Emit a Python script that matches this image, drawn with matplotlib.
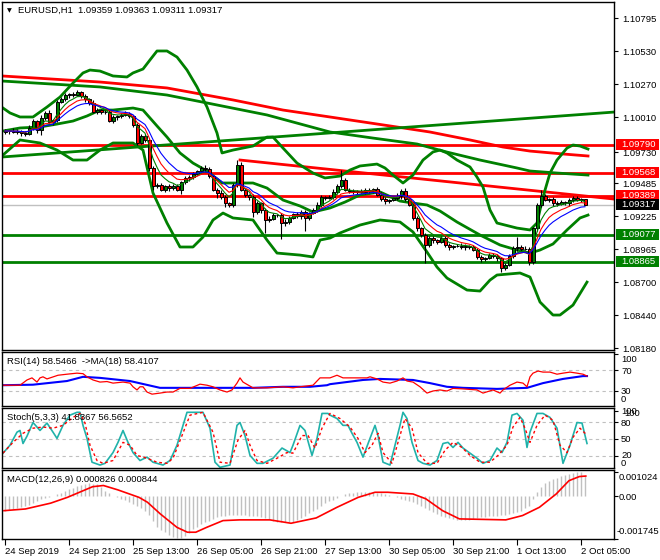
import numpy as np
import pandas as pd
import matplotlib
matplotlib.use('Agg')
import matplotlib.pyplot as plt
from matplotlib.transforms import blended_transform_factory as blend
from matplotlib.patches import Rectangle

plt.rcParams['font.family'] = ['Liberation Sans', 'DejaVu Sans']
FS = 6.8
W, H = 660, 560

# ---------------- data ----------------
first_open = 1.09892
close = [1.09900, 1.09900, 1.09892, 1.09900, 1.09884, 1.09876, 1.09924, 1.09979, 1.09908, 1.10003,
         1.10043, 1.09971, 1.09987, 1.10130, 1.10153, 1.10185, 1.10193, 1.10185, 1.10209, 1.10177,
         1.10153, 1.10122, 1.10051, 1.10066, 1.10051, 1.10051, 1.09979, 1.10011, 1.10019, 1.10027,
         1.10035, 1.10019, 1.09948, 1.09805, 1.09860, 1.09829, 1.09607, 1.09464, 1.09472, 1.09432,
         1.09464, 1.09448, 1.09464, 1.09432, 1.09496, 1.09527, 1.09535, 1.09559, 1.09583, 1.09607,
         1.09599, 1.09543, 1.09432, 1.09409, 1.09377, 1.09329, 1.09314, 1.09472, 1.09631, 1.09432,
         1.09393, 1.09377, 1.09258, 1.09329, 1.09274, 1.09195, 1.09203, 1.09234, 1.09234, 1.09171,
         1.09179, 1.09211, 1.09242, 1.09226, 1.09258, 1.09211, 1.09250, 1.09274, 1.09314, 1.09377,
         1.09369, 1.09377, 1.09417, 1.09464, 1.09512, 1.09432, 1.09425, 1.09417, 1.09425, 1.09417,
         1.09432, 1.09425, 1.09440, 1.09393, 1.09361, 1.09345, 1.09353, 1.09369, 1.09385, 1.09425,
         1.09361, 1.09314, 1.09211, 1.09131, 1.09076, 1.08997, 1.09052, 1.09036, 1.09020, 1.09052,
         1.08997, 1.08981, 1.08989, 1.08989, 1.08981, 1.08989, 1.08981, 1.08957, 1.08902, 1.08886,
         1.08894, 1.08917, 1.08909, 1.08894, 1.08815, 1.08838, 1.08909, 1.08973, 1.08981, 1.08965,
         1.08965, 1.08862, 1.09131, 1.09314, 1.09385, 1.09353, 1.09361, 1.09329, 1.09321, 1.09337,
         1.09329, 1.09353, 1.09369, 1.09353, 1.09359, 1.09317]
# wick lengths above / below the body, in 1e-5
wick_up = [15, 10, 20, 15, 10, 15, 20, 15, 10, 20,
           15, 20, 10, 15, 20, 15, 10, 15, 16, 10,
           15, 10, 20, 15, 10, 15, 20, 15, 10, 15,
           20, 15, 10, 15, 20, 15, 10, 15, 20, 15,
           10, 15, 20, 15, 10, 15, 20, 15, 10, 15,
           20, 15, 10, 15, 20, 15, 10, 20, 39, 25,
           15, 10, 20, 15, 10, 15, 20, 15, 10, 15,
           20, 15, 10, 15, 20, 15, 10, 15, 20, 15,
           10, 15, 20, 15, 79, 15, 20, 15, 10, 15,
           20, 15, 10, 15, 20, 15, 10, 15, 20, 15,
           23, 15, 20, 15, 10, 15, 20, 15, 10, 15,
           20, 15, 10, 15, 20, 15, 10, 15, 20, 15,
           10, 15, 20, 15, 10, 15, 20, 15, 80, 15,
           20, 15, 10, 15, 47, 15, 10, 15, 20, 15,
           10, 15, 20, 15, 10, 4]
wick_dn = [15, 20, 10, 15, 20, 15, 10, 15, 20, 40,
           15, 10, 20, 15, 10, 15, 20, 15, 10, 15,
           20, 15, 10, 15, 20, 15, 10, 15, 20, 15,
           10, 15, 20, 15, 10, 15, 20, 30, 15, 10,
           15, 20, 15, 10, 30, 15, 20, 15, 10, 15,
           20, 15, 10, 40, 15, 30, 15, 20, 15, 10,
           15, 20, 40, 15, 20, 100, 15, 10, 15, 130,
           20, 15, 10, 15, 20, 100, 15, 10, 15, 20,
           15, 10, 15, 20, 15, 10, 15, 20, 15, 10,
           15, 20, 15, 10, 15, 20, 15, 10, 15, 20,
           15, 10, 15, 20, 15, 143, 15, 20, 15, 10,
           15, 20, 15, 10, 15, 20, 15, 10, 15, 20,
           15, 10, 15, 20, 32, 15, 10, 15, 20, 15,
           10, 24, 15, 20, 15, 10, 15, 20, 15, 10,
           15, 20, 15, 10, 15, 6]

red_levels = [1.09790, 1.09568, 1.09389]
green_levels = [1.09077, 1.08865]
last_price = 1.09317

# long moving averages (thick)
ma_red_x = [-0.75, 23.75, 40.5, 57, 69.5, 81.25, 96.25, 106.25, 116.25, 124.5, 131.25, 139.5, 145.75]
ma_red_y = [1.10336, 1.10288, 1.10241, 1.10146, 1.10066, 1.10011, 1.09940, 1.09892, 1.09829,
            1.09773, 1.09741, 1.09718, 1.09702]
ma_grn_x = [-0.75, 23.75, 40.5, 50.5, 65.5, 81.25, 92, 103, 110.5, 118.75, 128, 131.25, 138, 145.75]
ma_grn_y = [1.10296, 1.10249, 1.10185, 1.10122, 1.10027, 1.09892, 1.09844, 1.09797, 1.09733,
            1.09670, 1.09607, 1.09583, 1.09567, 1.09551]

# trend lines
trend_grn_x = [-0.75, 152.25]
trend_grn_y = [1.09694, 1.10050]
trend_red_x = [58.75, 152.25]
trend_red_y = [1.09670, 1.09361]

# bollinger bands
bb_up_x = [-0.5, 1.25, 3.75, 7, 10.5, 13.75, 17, 19.5, 21.25, 23.75, 27, 30.5, 32, 34.5, 36.25,
           38, 40.5, 43, 45.5, 48, 50.5, 53, 54.25, 57, 62, 65.5, 67, 69.5, 73, 77, 80, 83.75,
           86.25, 88.75, 93, 95, 97, 99.5, 102, 104.5, 107, 108.75, 110.5, 113, 116.25, 118,
           119.5, 121.25, 123, 128, 131.25, 133, 134.5, 136.25, 138, 140.5, 142, 143.75, 145.75]
bb_up_y = [1.10082, 1.10043, 1.10011, 1.10011, 1.10090, 1.10169, 1.10280, 1.10360, 1.10383,
           1.10375, 1.10336, 1.10328, 1.10360, 1.10391, 1.10463, 1.10534, 1.10534, 1.10486,
           1.10383, 1.10249, 1.10090, 1.09884, 1.09726, 1.09749, 1.09781, 1.09852, 1.09852,
           1.09765, 1.09646, 1.09567, 1.09528, 1.09543, 1.09591, 1.09623, 1.09638, 1.09607,
           1.09551, 1.09488, 1.09551, 1.09670, 1.09734, 1.09749, 1.09726, 1.09670, 1.09615,
           1.09535, 1.09456, 1.09274, 1.09171, 1.09131, 1.09116, 1.09171, 1.09377, 1.09567,
           1.09670, 1.09765, 1.09789, 1.09781, 1.09757]
bb_mid_x = [-0.5, 3.75, 8.75, 13, 17, 20.5, 23.75, 27, 32, 34.5, 38, 40.5, 43.75, 47, 50.5, 54.25,
            62, 65.5, 69.5, 73.75, 77, 81.25, 85, 88.75, 93.75, 98.75, 102, 105.5, 108.75, 113,
            118.75, 123.75, 128, 131.25, 133.75, 137, 140.5, 143.75, 145.75]
bb_mid_y = [1.09900, 1.09924, 1.09932, 1.09955, 1.09979, 1.10019, 1.10066, 1.10066, 1.10082,
            1.10066, 1.09940, 1.09852, 1.09726, 1.09646, 1.09583, 1.09488, 1.09488, 1.09448,
            1.09353, 1.09306, 1.09258, 1.09290, 1.09337, 1.09393, 1.09417, 1.09345, 1.09329,
            1.09314, 1.09266, 1.09179, 1.09076, 1.08997, 1.08957, 1.08933, 1.08957, 1.09005,
            1.09116, 1.09211, 1.09234]
bb_lo_x = [-0.5, 3.75, 8.75, 13, 17, 20.5, 23.75, 27, 32, 34.5, 37, 40.5, 43.75, 47, 49.5, 52,
           54.5, 57, 62, 65.5, 68, 73.75, 77, 78.75, 81.25, 83.75, 88.75, 93.75, 98.75, 102,
           103.75, 105.5, 108, 110.5, 115.5, 118.75, 121.25, 123, 128.75, 131.25, 133.75, 137,
           138.75, 142, 145.5]
bb_lo_y = [1.09710, 1.09829, 1.09805, 1.09749, 1.09670, 1.09670, 1.09749, 1.09805, 1.09805,
           1.09749, 1.09409, 1.09171, 1.08981, 1.08981, 1.09060, 1.09195, 1.09250, 1.09211,
           1.09195, 1.09036, 1.08933, 1.08917, 1.08902, 1.09036, 1.09052, 1.09092, 1.09155,
           1.09195, 1.09179, 1.09100, 1.09020, 1.08941, 1.08822, 1.08735, 1.08640, 1.08632,
           1.08719, 1.08759, 1.08775, 1.08743, 1.08545, 1.08442, 1.08442, 1.08521, 1.08703]

# RSI(14) and its MA(18)
rsi_x = [-0.5, 3.75, 5.5, 6.75, 8, 8.75, 9.5, 10.5, 13.25, 15.5, 18, 19.5, 20.5, 22, 23.75, 25.5,
         27, 29.5, 31.25, 32, 33, 33.75, 34.5, 35.5, 36.75, 38.75, 40.5, 42, 43.75, 46.25, 48.75,
         50.5, 52, 53.75, 55.5, 56.75, 58, 58.75, 59.5, 62, 65.5, 69.5, 72, 73.75, 77, 78.75,
         81.25, 83, 84.5, 86.25, 90.5, 91.25, 93, 94.5, 96.25, 98, 99.5, 100.5, 102, 103.75,
         105.5, 107, 108.75, 110.5, 112, 114.5, 118, 119.5, 122, 123.75, 124.5, 126.25, 128,
         129.5, 130.5, 131.25, 132, 133.25, 134.5, 136.25, 138, 139.5, 141.25, 143, 144.5, 145.5]
rsi_y = [41, 41, 51, 55, 47, 55, 57, 53, 60, 62, 64, 63, 57, 51, 47, 48, 45, 47, 45, 38, 32, 38,
         38, 28, 24, 26, 28, 28, 35, 35, 43, 41, 38, 32, 28, 32, 45, 55, 47, 36, 36, 38, 36, 38,
         41, 55, 55, 60, 55, 55, 55, 57, 53, 47, 45, 49, 55, 49, 47, 38, 26, 30, 32, 30, 35, 34,
         32, 26, 32, 26, 32, 41, 47, 45, 38, 57, 64, 68, 66, 66, 62, 64, 66, 64, 62, 58.5]
rsi_ma_x = [-0.5, 7, 15.5, 19.5, 23.75, 31.25, 38.75, 44.5, 52, 62, 69.5, 76.25, 80.5, 81.25,
            89.5, 93.75, 102, 106.25, 110.5, 114.5, 123, 130.5, 134.5, 139.5, 144.5, 145.5]
rsi_ma_y = [41, 42, 49, 57, 55, 49, 36, 36, 36, 36, 38, 38, 41, 43, 51, 53, 51, 45, 38, 36, 34,
            36, 45, 53, 58.4, 58.4]

# Stochastic(5,3,3)
stk_x = [-0.5, 1.25, 3, 3.75, 4.5, 5.5, 7, 8.75, 10.5, 12, 13, 14.5, 16.25, 18, 18.75, 19.5,
         20.5, 21.75, 23.75, 25, 27, 28.25, 29.5, 30.75, 32, 33.75, 35.5, 37, 39.5, 41.25, 43,
         45.5, 48.75, 49.5, 51.25, 52.5, 53.75, 56.25, 58, 58.75, 60, 61.25, 63, 64.5, 67,
         69.25, 71.25, 72, 73.75, 75, 76.75, 78, 79.25, 80.75, 81.25, 83, 84.5, 85.75, 86.75,
         88, 89.5, 91.25, 92.5, 93.25, 94.5, 96.25, 97.5, 98.75, 99.5, 100.5, 101.75, 103.25,
         104.5, 106.25, 108, 109.5, 110.75, 112, 113.25, 114.5, 116.25, 118, 119.5, 121.25, 123,
         124.25, 125.5, 126.75, 128, 129.5, 130.5, 131.25, 133, 134.5, 136.25, 138, 139.5,
         141.25, 143, 144.25, 145.5]
stk_y = [25, 39, 62, 65, 42, 55, 79, 65, 78, 62, 51, 74, 92, 97, 97, 74, 51, 9, 4, 7, 26, 44, 65,
         44, 26, 12, 18, 9, 4, 12, 39, 97, 97, 97, 69, 9, 0, 4, 74, 79, 56, 21, 7, 7, 16, 34, 26,
         39, 74, 65, 21, 51, 95, 95, 92, 86, 74, 74, 60, 44, 18, 51, 74, 56, 9, 4, 39, 74, 97,
         86, 44, 12, 7, 4, 12, 42, 44, 35, 44, 34, 25, 16, 7, 12, 34, 26, 44, 92, 95, 83, 35,
         62, 95, 95, 88, 69, 7, 39, 79, 78, 42]
std_x = [-0.5, 2, 4.5, 7, 9.5, 12, 14.5, 17, 18.75, 20, 21.25, 23, 24.5, 27, 29.5, 31.25, 33,
         35.5, 38, 40.5, 42, 44.25, 46.25, 49.5, 52, 53.75, 56.25, 58.25, 60, 61.25, 63, 65.5,
         68, 70.5, 72, 74.25, 75.75, 77.5, 79.25, 81.25, 83.75, 86.25, 88.25, 90, 91.75, 93.25,
         94.5, 96.75, 98.25, 100, 101.75, 103.25, 105.5, 108, 110, 112, 114.25, 116.25, 118.75,
         121.25, 123.25, 125.5, 127, 128.75, 130, 131.25, 133, 135, 137, 138.75, 140.5, 142,
         143.75, 145.5]
std_y = [25, 44, 60, 69, 71, 69, 74, 88, 95, 78, 39, 12, 7, 12, 44, 39, 21, 16, 9, 7, 16, 56, 92,
         97, 62, 9, 7, 48, 65, 39, 12, 7, 16, 26, 25, 56, 56, 34, 69, 95, 86, 71, 51, 26, 39, 60,
         26, 7, 44, 86, 69, 26, 7, 7, 30, 44, 35, 21, 9, 9, 21, 39, 71, 88, 69, 44, 74, 92, 83,
         39, 26, 53, 69, 56.5]

# MACD(12,26,9): main per bar and signal, in 1e-5
macd_main = [-59, -56, -52, -48, -45, -40, -34, -26, -18, -12,
             -6, -1, 3, 9, 15, 22, 29, 36, 42, 48,
             52, 54, 53, 51, 38, 24, 13, 3, -4, -10,
             -15, -23, -31, -38, -50, -62, -75, -100, -125, -138,
             -147, -160, -167, -172, -170, -163, -150, -136, -125, -115,
             -107, -100, -93, -86, -83, -80, -77, -75, -75, -76,
             -77, -79, -80, -83, -87, -91, -94, -100, -105, -107,
             -107, -106, -104, -96, -88, -80, -70, -61, -52, -40,
             -28, -20, -14, -5, 3, 10, 13, 16, 17, 18,
             19, 20, 18, 15, 12, 10, 6, 2, -4, -9,
             -15, -17, -24, -31, -38, -47, -57, -66, -73, -80,
             -86, -90, -94, -97, -97, -97, -97, -95, -91, -87,
             -85, -83, -81, -79, -77, -75, -72, -68, -64, -59,
             -50, -38, -10, 17, 38, 55, 64, 70, 75, 84,
             90, 94, 97, 100, 102, 83]
sig_x = [-0.25, 5.1, 11.4, 15.6, 21.9, 24.6, 28.2, 33.5, 35.6, 38.8, 43, 45.6, 47.7, 50.4, 54.5,
         58.7, 66.2, 71.5, 77.8, 83, 88.3, 92.5, 95.7, 102, 105.2, 109.4, 113.6, 125.2, 129.4,
         133.6, 137.8, 141, 143.6, 145.2]
sig_y = [-59, -52, -28, -4, 40, 45, 27, -4, -24, -72, -128, -148, -148, -128, -100, -97, -97,
         -111, -89, -45, -4, 17, 17, 10, -10, -59, -93, -97, -79, -45, 10, 65, 82, 84]

price_ticks = [1.10795, 1.10530, 1.10270, 1.10010, 1.09730, 1.09485, 1.09225, 1.08965,
               1.08700, 1.08440, 1.08180]
time_labels = ['24 Sep 2019', '24 Sep 21:00', '25 Sep 13:00', '26 Sep 05:00', '26 Sep 21:00',
               '27 Sep 13:00', '30 Sep 05:00', '30 Sep 21:00', '1 Oct 13:00', '2 Oct 05:00']
time_pos = [0, 16, 32, 48, 64, 80, 96, 112, 128, 144]

# ---------------- figure ----------------
fig = plt.figure(figsize=(6.6, 5.6), dpi=100)
fig.patch.set_facecolor('white')
XL = (-0.75, 152.25)


def panel(top, bottom):
    a = fig.add_axes([2 / W, 1 - bottom / H, 612 / W, (bottom - top) / H])
    a.set_xlim(*XL)
    a.set_xticks([])
    for s in a.spines.values():
        s.set_linewidth(1.0)
        s.set_color('black')
    a.yaxis.tick_right()
    a.tick_params(axis='y', direction='out', length=3, width=0.8, labelsize=FS, pad=3)
    return a


def rlabel(ypx, s, xpx=621):
    fig.text(xpx / W, 1 - ypx / H, s, fontsize=FS, va='center', ha='left')


# main price panel
ax = panel(2, 350)
ax.set_ylim(1.08165, 1.10922)
ax.set_yticks(price_ticks)
ax.set_yticklabels(['%.5f' % v for v in price_ticks])

x = np.arange(len(close))
c = np.array(close)
o = np.r_[first_open, c[:-1]]
hi = np.maximum(o, c) + np.array(wick_up) * 1e-5
lo = np.minimum(o, c) - np.array(wick_dn) * 1e-5
up = c >= o

ax.axhline(last_price, color='#C0C0C0', lw=1, zorder=1)
for lv in red_levels:
    ax.axhline(lv, color='#FF0000', lw=2, zorder=2)
for lv in green_levels:
    ax.axhline(lv, color='#008000', lw=2, zorder=2)

ax.plot(ma_red_x, ma_red_y, color='#FF0000', lw=2, zorder=2)
ax.plot(ma_grn_x, ma_grn_y, color='#008000', lw=2, zorder=2)
ax.plot(trend_grn_x, trend_grn_y, color='#008000', lw=2, zorder=2)
ax.plot(trend_red_x, trend_red_y, color='#FF0000', lw=2, zorder=2)
for bx, by in [(bb_up_x, bb_up_y), (bb_mid_x, bb_mid_y), (bb_lo_x, bb_lo_y)]:
    ax.plot(bx, by, color='#008000', lw=2, zorder=2)

ax.vlines(x, lo, hi, color='black', lw=0.8, zorder=3)
ax.bar(x[up], (c - o)[up], bottom=o[up], width=0.75, color='#008000',
       edgecolor='black', lw=0.7, zorder=4)
ax.bar(x[~up], (c - o)[~up], bottom=o[~up], width=0.75, color='#FF0000',
       edgecolor='black', lw=0.7, zorder=4)

s = pd.Series(c)
ax.plot(x, s.ewm(span=5, adjust=False).mean(), color='#008000', lw=0.8, zorder=5)
ax.plot(x, s.ewm(span=8, adjust=False).mean(), color='#FF0000', lw=0.8, zorder=5)
ax.plot(x, s.ewm(span=12, adjust=False).mean(), color='#0000FF', lw=0.8, zorder=5)

# price boxes on the right scale
tr = blend(ax.transAxes, ax.transData)
bh = 11 / 348 * (1.10922 - 1.08165)
for lv, fc in ([(v, '#FF0000') for v in red_levels] + [(v, '#008000') for v in green_levels]
               + [(last_price, 'black')]):
    ax.add_patch(Rectangle((614 / 612, lv - bh / 2), 43 / 612, bh, transform=tr,
                           facecolor=fc, edgecolor='none', clip_on=False, zorder=10))
    ax.text(619 / 612, lv, '%.5f' % lv, transform=tr, color='white', fontsize=FS,
            va='center', ha='left', zorder=11, clip_on=False)

fig.text(7 / W, 1 - 11 / H, '\u25BC', fontsize=4.5, va='center', ha='left',
         family='DejaVu Sans')
fig.text(18 / W, 1 - 10.5 / H, 'EURUSD,H1  1.09359 1.09363 1.09311 1.09317',
         fontsize=FS, va='center', ha='left')

# RSI panel
ar = panel(352, 406)
ar.set_ylim(1.4, 104.3)
ar.set_yticks([100, 70, 30])
ar.set_yticklabels([])
for lv in [70, 30]:
    ar.axhline(lv, color='#C0C0C0', lw=0.8, ls=(0, (3, 3)))
ar.plot(rsi_ma_x, rsi_ma_y, color='#0000FF', lw=1.5)
ar.plot(rsi_x, rsi_y, color='#FF0000', lw=0.9)
fig.text(7 / W, 1 - 362 / H, 'RSI(14) 58.5466  ->MA(18) 58.4107', fontsize=FS, va='center')
rlabel(359, '100')
rlabel(371, '70')
rlabel(392, '30')
rlabel(400, '0')

# Stochastic panel
ast = panel(408, 468)
ast.set_ylim(-1.2, 104.6)
ast.set_yticks([100, 80, 50, 20])
ast.set_yticklabels([])
for lv in [80, 50, 20]:
    ast.axhline(lv, color='#C0C0C0', lw=0.8, ls=(0, (3, 3)))
ast.plot(stk_x, stk_y, color='#20B2AA', lw=1.2)
ast.plot(std_x, std_y, color='#FF0000', lw=1.0, ls=(0, (2, 2)))
fig.text(7 / W, 1 - 418 / H, 'Stoch(5,3,3) 41.8367 56.5652', fontsize=FS, va='center')
rlabel(411, '100')
rlabel(414, '100', 624)
rlabel(423, '80')
rlabel(440, '50')
rlabel(456, '20')
rlabel(463, '0')

# MACD panel
am = panel(470, 539)
am.set_ylim(-0.00176, 0.00109)
am.set_yticks([0.001024, 0.0, -0.001745])
am.set_yticklabels([])
am.vlines(x, 0, np.array(macd_main) * 1e-5, color='#C0C0C0', lw=1)
am.plot(sig_x, np.array(sig_y) * 1e-5, color='#FF0000', lw=1.2)
fig.text(7 / W, 1 - 479 / H, 'MACD(12,26,9) 0.000826 0.000844', fontsize=FS, va='center')
rlabel(478, '0.001024', 619)
rlabel(497, '0.00', 619)
rlabel(531, '-0.001745', 617)

am.set_xticks(time_pos)
am.set_xticklabels(time_labels, ha='left', fontsize=FS)
am.tick_params(axis='x', direction='out', length=4, width=0.8, pad=2)

fig.savefig('out.png', dpi=100)
